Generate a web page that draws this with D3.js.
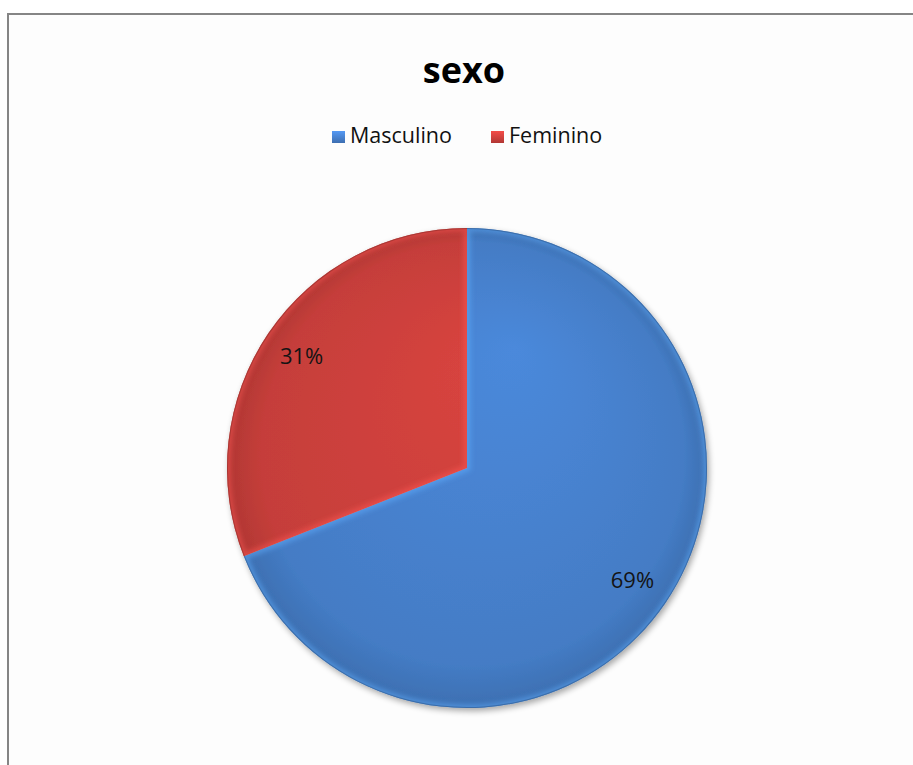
<!DOCTYPE html>
<html><head><meta charset="utf-8">
<script src="https://cdn.jsdelivr.net/npm/d3@7"></script>
<style>html,body{margin:0;padding:0;background:#fff;}svg{display:block;}</style>
</head><body>
<script>
const categories = ["Masculino", "Feminino"];
const values = [69, 31];
const labels = ["69%", "31%"];
const colors = ["#4680cc", "#cc403c"];
const title = "sexo";

const W = 913, H = 765;
const cx = 467, cy = 468, R = 240;
const font = "'Open Sans', 'Liberation Sans', sans-serif";

const svg = d3.select("body").append("svg").attr("width", W).attr("height", H);
const defs = svg.append("defs");

// background and border
svg.append("rect").attr("x", 8).attr("y", 14).attr("width", W).attr("height", H).attr("fill", "#fdfdfd");
svg.append("line").attr("x1", 7).attr("x2", W).attr("y1", 14).attr("y2", 14).attr("stroke", "#858585").attr("stroke-width", 2);
svg.append("line").attr("x1", 8).attr("x2", 8).attr("y1", 13).attr("y2", H).attr("stroke", "#858585").attr("stroke-width", 2);

// title
svg.append("text").attr("x", 464).attr("y", 83).attr("text-anchor", "middle")
  .attr("font-family", font).attr("font-weight", 700).attr("font-size", 36).attr("fill", "#000").text(title);

// legend
const legendX = [332, 491];
const color = d3.scaleOrdinal().domain(categories).range(colors);
categories.forEach((c, i) => {
  const g = defs.append("linearGradient").attr("id", "lg" + i).attr("x1", 0).attr("y1", 0).attr("x2", 0).attr("y2", 1);
  g.append("stop").attr("offset", 0).attr("stop-color", d3.color(color(c)).brighter(0.5));
  g.append("stop").attr("offset", 1).attr("stop-color", d3.color(color(c)).darker(0.4));
  svg.append("rect").attr("x", legendX[i]).attr("y", 131).attr("width", 13).attr("height", 12)
    .attr("fill", `url(#lg${i})`);
  svg.append("text").attr("x", legendX[i] + 18).attr("y", 143)
    .attr("font-family", font).attr("font-size", 21.5).attr("fill", "#111").text(c);
});

// pie
const pie = d3.pie().sort(null).value(d => d);
const arcs = pie(values);
const arc = d3.arc().innerRadius(0).outerRadius(R);
const labelArc = d3.arc().innerRadius(200).outerRadius(200);

// shadow filter
const f = defs.append("filter").attr("id", "shadow").attr("x", "-20%").attr("y", "-20%").attr("width", "140%").attr("height", "140%");
f.append("feGaussianBlur").attr("in", "SourceAlpha").attr("stdDeviation", 3);
f.append("feOffset").attr("dx", 2).attr("dy", 3).attr("result", "b");
f.append("feComponentTransfer").append("feFuncA").attr("type", "linear").attr("slope", 0.35);
const fm = f.append("feMerge"); fm.append("feMergeNode"); fm.append("feMergeNode").attr("in", "SourceGraphic");

const blur = defs.append("filter").attr("id", "blur");
blur.append("feGaussianBlur").attr("stdDeviation", 2.5);

const g = svg.append("g").attr("transform", `translate(${cx},${cy})`);
const gs = g.append("g").attr("filter", "url(#shadow)");

arcs.forEach((a, i) => {
  const base = d3.color(colors[i]);
  const rg = defs.append("radialGradient").attr("id", "rg" + i)
    .attr("gradientUnits", "userSpaceOnUse").attr("cx", 0).attr("cy", 0).attr("r", R)
    .attr("fx", R * 0.2).attr("fy", -R * 0.5);
  rg.append("stop").attr("offset", 0).attr("stop-color", base.brighter(0.2));
  rg.append("stop").attr("offset", 0.88).attr("stop-color", base.darker(0.1));
  rg.append("stop").attr("offset", 1).attr("stop-color", base.darker(0.4));
  gs.append("path").attr("d", arc(a)).attr("fill", `url(#rg${i})`);
});

// bevel highlights clipped to slices
arcs.forEach((a, i) => {
  defs.append("clipPath").attr("id", "cp" + i).append("path").attr("d", arc(a));
  const base = d3.color(colors[i]);
  g.append("path").attr("d", arc(a)).attr("fill", "none")
    .attr("stroke", base.brighter(0.9)).attr("stroke-opacity", 0.5).attr("stroke-width", 7)
    .attr("clip-path", `url(#cp${i})`).attr("filter", "url(#blur)");
  g.append("path").attr("d", d3.arc().innerRadius(R - 1).outerRadius(R)(a))
    .attr("fill", base.darker(1)).attr("fill-opacity", 0.6);
});

// labels
arcs.forEach((a, i) => {
  const [x, y] = labelArc.centroid(a);
  g.append("text").attr("x", x).attr("y", y).attr("text-anchor", "middle").attr("dy", "0.36em")
    .attr("font-family", font).attr("font-size", 22).attr("fill", "#141414").text(labels[i]);
});
</script>
</body></html>
